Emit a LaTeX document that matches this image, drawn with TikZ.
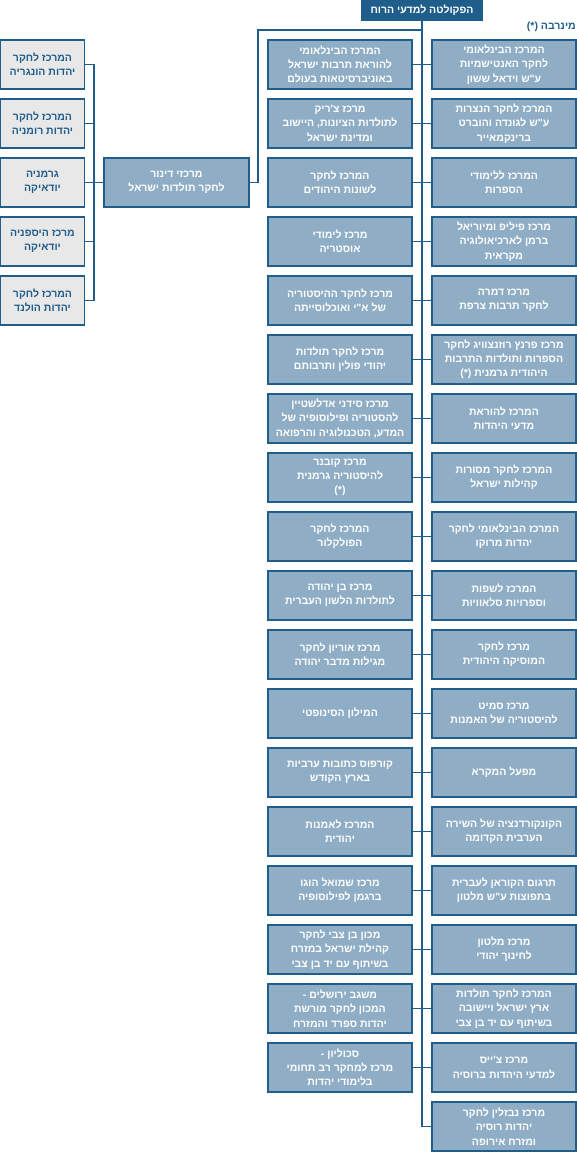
\documentclass[tikz,border=0pt]{standalone}
\usepackage{fontspec}
\newfontfamily\ebraico[Script=Hebrew]{Liberation Sans}
\TeXXeTstate=1
\definecolor{bluscuro}{HTML}{1F5D8A}
\definecolor{bluchiaro}{HTML}{8FAEC6}
\definecolor{grigino}{HTML}{E8E8E8}
\newcommand{\riga}[1]{\beginR#1\endR}
\tikzset{
  testo/.style={font=\ebraico\bfseries\fontsize{10.5}{14.3}\selectfont},
  centro/.style={testo, draw=bluscuro, fill=bluchiaro, line width=1.2pt,
    minimum width=144pt, minimum height=49pt, text=white, align=center, inner sep=1pt},
  paese/.style={centro, fill=grigino, text=bluscuro, minimum width=84pt},
  facolta/.style={centro, draw=bluscuro, fill=bluscuro, minimum width=120pt, minimum height=20pt},
  linea/.style={draw=bluscuro, line width=1.2pt}
}
\begin{document}
\begin{tikzpicture}[x=1pt,y=-1pt]
    \useasboundingbox (0,0) rectangle (577,1152);

    % Facolta
    \node[facolta] (top) at (422,10) {\riga{הפקולטה למדעי הרוח}};
    \node[testo, text=bluscuro, anchor=east, inner sep=0pt] (minerva) at (576,27)
    {\riga{מינרבה \beginL(*)\endL}};

    % Colonna destra
    \node[centro] (R1) at (504,64.5) {\riga{המרכז הבינלאומי}\\\riga{לחקר האנטישמיות}\\\riga{ע"ש וידאל ששון}};
    \node[centro] (R2) at (504,123.5) {\riga{המרכז לחקר הנצרות}\\\riga{ע"ש לגונדה והוברט}\\\riga{ברינקמאייר}};
    \node[centro] (R3) at (504,182.5) {\riga{המרכז ללימודי}\\\riga{הספרות}};
    \node[centro] (R4) at (504,241.5) {\riga{מרכז פיליפ ומיוריאל}\\\riga{ברמן לארכיאולוגיה}\\\riga{מקראית}};
    \node[centro] (R5) at (504,300.5) {\riga{מרכז דמרה}\\\riga{לחקר תרבות צרפת}};
    \node[centro] (R6) at (504,359.5) {\riga{מרכז פרנץ רוזנצוויג לחקר}\\\riga{הספרות ותולדות התרבות}\\\riga{היהודית גרמנית \beginL(*)\endL}};
    \node[centro] (R7) at (504,418.5) {\riga{המרכז להוראת}\\\riga{מדעי היהדות}};
    \node[centro] (R8) at (504,477.5) {\riga{המרכז לחקר מסורות}\\\riga{קהילות ישראל}};
    \node[centro] (R9) at (504,536.5) {\riga{המרכז הבינלאומי לחקר}\\\riga{יהדות מרוקו}};
    \node[centro] (R10) at (504,595.5) {\riga{המרכז לשפות}\\\riga{וספרויות סלאוויות}};
    \node[centro] (R11) at (504,654.5) {\riga{מרכז לחקר}\\\riga{המוסיקה היהודית}};
    \node[centro] (R12) at (504,713.5) {\riga{מרכז סמיט}\\\riga{להיסטוריה של האמנות}};
    \node[centro] (R13) at (504,772.5) {\riga{מפעל המקרא}};
    \node[centro] (R14) at (504,831.5) {\riga{הקונקורדנציה של השירה}\\\riga{הערבית הקדומה}};
    \node[centro] (R15) at (504,890.5) {\riga{תרגום הקוראן לעברית}\\\riga{בתפוצות ע"ש מלטון}};
    \node[centro] (R16) at (504,949.5) {\riga{מרכז מלטון}\\\riga{לחינוך יהודי}};
    \node[centro] (R17) at (504,1008.5) {\riga{המרכז לחקר תולדות}\\\riga{ארץ ישראל ויישובה}\\\riga{בשיתוף עם יד בן צבי}};
    \node[centro] (R18) at (504,1067.5) {\riga{מרכז צ'ייס}\\\riga{למדעי היהדות ברוסיה}};
    \node[centro] (R19) at (504,1126.5) {\riga{מרכז נבזלין לחקר}\\\riga{יהדות רוסיה}\\\riga{ומזרח אירופה}};

    % Colonna sinistra
    \node[centro] (L1) at (340,64.5) {\riga{המרכז הבינלאומי}\\\riga{להוראת תרבות ישראל}\\\riga{באוניברסיטאות בעולם}};
    \node[centro] (L2) at (340,123.5) {\riga{מרכז צ'ריק}\\\riga{לתולדות הציונות, היישוב}\\\riga{ומדינת ישראל}};
    \node[centro] (L3) at (340,182.5) {\riga{המרכז לחקר}\\\riga{לשונות היהודים}};
    \node[centro] (L4) at (340,241.5) {\riga{מרכז לימודי}\\\riga{אוסטריה}};
    \node[centro] (L5) at (340,300.5) {\riga{מרכז לחקר ההיסטוריה}\\\riga{של א"י ואוכלוסייתה}};
    \node[centro] (L6) at (340,359.5) {\riga{מרכז לחקר תולדות}\\\riga{יהודי פולין ותרבותם}};
    \node[centro] (L7) at (340,418.5) {\riga{מרכז סידני אדלשטיין}\\\riga{להסטוריה ופילוסופיה של}\\\riga{המדע, הטכנולוגיה והרפואה}};
    \node[centro] (L8) at (340,477.5) {\riga{מרכז קובנר}\\\riga{להיסטוריה גרמנית}\\\riga{\beginL(*)\endL}};
    \node[centro] (L9) at (340,536.5) {\riga{המרכז לחקר}\\\riga{הפולקלור}};
    \node[centro] (L10) at (340,595.5) {\riga{מרכז בן יהודה}\\\riga{לתולדות הלשון העברית}};
    \node[centro] (L11) at (340,654.5) {\riga{מרכז אוריון לחקר}\\\riga{מגילות מדבר יהודה}};
    \node[centro] (L12) at (340,713.5) {\riga{המילון הסינופטי}};
    \node[centro] (L13) at (340,772.5) {\riga{קורפוס כתובות ערביות}\\\riga{בארץ הקודש}};
    \node[centro] (L14) at (340,831.5) {\riga{המרכז לאמנות}\\\riga{יהודית}};
    \node[centro] (L15) at (340,890.5) {\riga{מרכז שמואל הוגו}\\\riga{ברגמן לפילוסופיה}};
    \node[centro] (L16) at (340,949.5) {\riga{מכון בן צבי לחקר}\\\riga{קהילת ישראל במזרח}\\\riga{בשיתוף עם יד בן צבי}};
    \node[centro] (L17) at (340,1008.5) {\riga{משגב ירושלים -}\\\riga{המכון לחקר מורשת}\\\riga{יהדות ספרד והמזרח}};
    \node[centro] (L18) at (340,1067.5) {\riga{סכוליון -}\\\riga{מרכז למחקר רב תחומי}\\\riga{בלימודי יהדות}};

    % Dinur e centri per paese
    \node[centro, minimum width=145pt] (dinur) at (176.5,182.5) {\riga{מרכזי דינור}\\\riga{לחקר תולדות ישראל}};
    \node[paese] (G1) at (42.5,64.5) {\riga{המרכז לחקר}\\\riga{יהדות הונגריה}};
    \node[paese] (G2) at (42.5,123.5) {\riga{המרכז לחקר}\\\riga{יהדות רומניה}};
    \node[paese] (G3) at (42.5,182.5) {\riga{גרמניה}\\\riga{יודאיקה}};
    \node[paese] (G4) at (42.5,241.5) {\riga{מרכז היספניה}\\\riga{יודאיקה}};
    \node[paese] (G5) at (42.5,300.5) {\riga{המרכז לחקר}\\\riga{יהדות הולנד}};

    % Linea centrale e rami
    \draw[linea] (top.south) |- (R19.west);
    \foreach \i in {1,...,18}
        \draw[linea] (L\i.east) -- (R\i.west);

    % Ramo verso Dinur
    \coordinate (gomito) at (258,30);
    \draw[linea] (top.south |- gomito) -- (gomito) |- (dinur.east);

    % Collettore dei paesi
    \coordinate (bus) at (94,0);
    \draw[linea] (G1.east) -- (G1.east -| bus) -- (G5.east -| bus) -- (G5.east);
    \foreach \i in {2,3,4}
        \draw[linea] (G\i.east) -- (G\i.east -| bus);
    \draw[linea] (bus |- dinur.west) -- (dinur.west);
\end{tikzpicture}
\end{document}
